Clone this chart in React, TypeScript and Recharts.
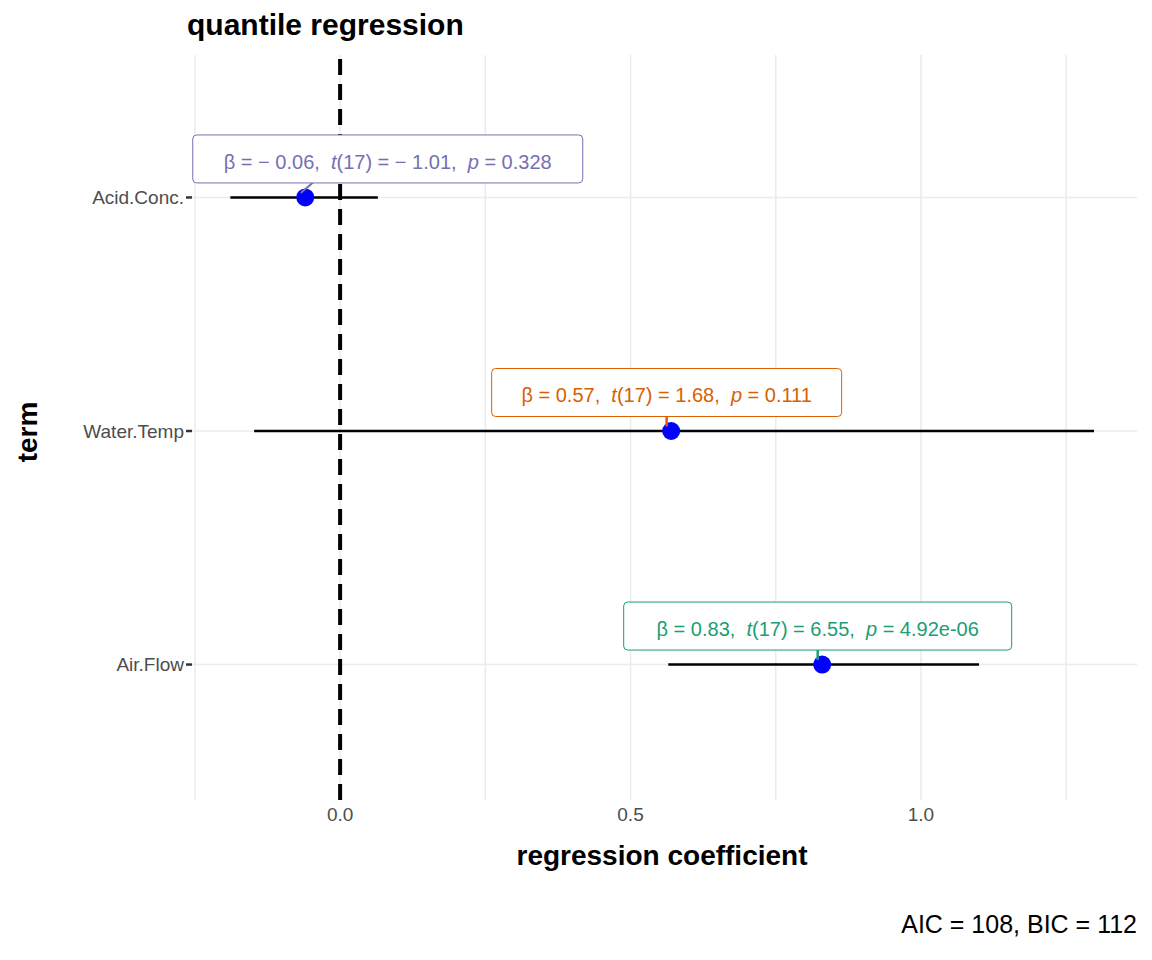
import React from "react";
import {
  ComposedChart,
  Scatter,
  ErrorBar,
  XAxis,
  YAxis,
  CartesianGrid,
  ReferenceLine,
  LabelList,
} from "recharts";

const terms = ["Air.Flow", "Water.Temp", "Acid.Conc."];
const estimates = [0.83, 0.57, -0.06];
const ciLow = [0.565, -0.148, -0.189];
const ciHigh = [1.1, 1.298, 0.065];
const tStats = ["6.55", "1.68", "\u2212 1.01"];
const pValues = ["4.92e-06", "0.111", "0.328"];
const labelColors = ["#1b9e77", "#d95f02", "#7570b3"];
const xTicks = [-0.25, 0, 0.25, 0.5, 0.75, 1, 1.25];

const data = terms.map((term, i) => ({
  term,
  pos: i + 1,
  estimate: estimates[i],
  err: [estimates[i] - ciLow[i], ciHigh[i] - estimates[i]],
  idx: i,
}));

const FONT = "'Liberation Sans', Arial, sans-serif";

const fmtEst = (v: number) =>
  v < 0 ? "\u2212 " + Math.abs(v).toFixed(2) : v.toFixed(2);

function StatLabel(props: any) {
  const { x, y, index } = props;
  const i = index as number;
  const color = labelColors[i];
  const shift = i === 2 ? 87 : 0;
  const w = i === 0 ? 388 : i === 1 ? 350 : 390;
  const cx = x + shift;
  const h = 48;
  const top = y - 10 - h;
  return (
    <g>
      {i === 2 && <line x1={x} y1={y} x2={x + 14} y2={y - 12} stroke={color} strokeWidth={2} />}
      {i !== 2 && <line x1={x} y1={y} x2={x} y2={y - 10} stroke={color} strokeWidth={2.5} />}
      <rect x={cx - w / 2} y={top} width={w} height={h} rx={4} fill="#fff" stroke={color} strokeWidth={1} />
      <text x={cx} y={top + 34} textAnchor="middle" fill={color} fontFamily={FONT} fontSize={20} style={{ whiteSpace: "pre" }}>
        <tspan>{"\u03B2"}</tspan>
        <tspan>{" = " + fmtEst(estimates[i]) + ",  "}</tspan>
        <tspan fontStyle="italic">t</tspan>
        <tspan>{"(17) = " + tStats[i] + ",  "}</tspan>
        <tspan fontStyle="italic">p</tspan>
        <tspan>{" = " + pValues[i]}</tspan>
      </text>
    </g>
  );
}

export default function App() {
  document.body.style.margin = "0";
  return (
    <div style={{ position: "relative", width: 1152, height: 960, background: "#fff", fontFamily: FONT }}>
      <ComposedChart width={1152} height={960} data={data} margin={{ top: 55, right: 15, left: 0, bottom: 130 }}>
        <CartesianGrid stroke="#ebebeb" strokeWidth={1.5} verticalValues={xTicks} horizontalValues={[1, 2, 3]} />
        <XAxis
          type="number"
          dataKey="estimate"
          domain={[-0.255, 1.372]}
          ticks={xTicks}
          tickFormatter={(v: number) => (v === 0 || v === 0.5 || v === 1 ? v.toFixed(1) : "")}
          axisLine={false}
          tickLine={false}
          height={30}
          tick={{ fill: "#4d4d4d", fontSize: 19, fontFamily: FONT }}
          allowDataOverflow
        />
        <YAxis
          type="number"
          dataKey="pos"
          domain={[0.42, 3.61]}
          ticks={[1, 2, 3]}
          tickFormatter={(v: number) => terms[v - 1] ?? ""}
          axisLine={false}
          tickLine={{ stroke: "#333", strokeWidth: 2.5 }}
          tickSize={6}
          width={192}
          tick={{ fill: "#4d4d4d", fontSize: 19, fontFamily: FONT }}
          allowDataOverflow
        />
        <ReferenceLine x={0} stroke="#000" strokeWidth={4} strokeDasharray="16 9" />
        <Scatter dataKey="pos" fill="#0000ff" isAnimationActive={false} shape={(p: any) => <circle cx={p.cx} cy={p.cy} r={9} fill="#0000ff" />}>
          <ErrorBar dataKey="err" direction="x" width={0} stroke="#000" strokeWidth={2.5} />
          <LabelList dataKey="pos" content={StatLabel} />
        </Scatter>
      </ComposedChart>
      <div style={{ position: "absolute", left: 187, top: 8, fontSize: 30, fontWeight: "bold", whiteSpace: "nowrap" }}>quantile regression</div>
      <div style={{ position: "absolute", left: 662, top: 840, transform: "translateX(-50%)", fontSize: 28, fontWeight: "bold", whiteSpace: "nowrap" }}>
        regression coefficient
      </div>
      <div style={{ position: "absolute", left: 28, top: 432, transform: "translate(-50%,-50%) rotate(-90deg)", fontSize: 28, fontWeight: "bold" }}>
        term
      </div>
      <div style={{ position: "absolute", right: 15, top: 910, fontSize: 25, whiteSpace: "nowrap" }}>AIC = 108, BIC = 112</div>
    </div>
  );
}
